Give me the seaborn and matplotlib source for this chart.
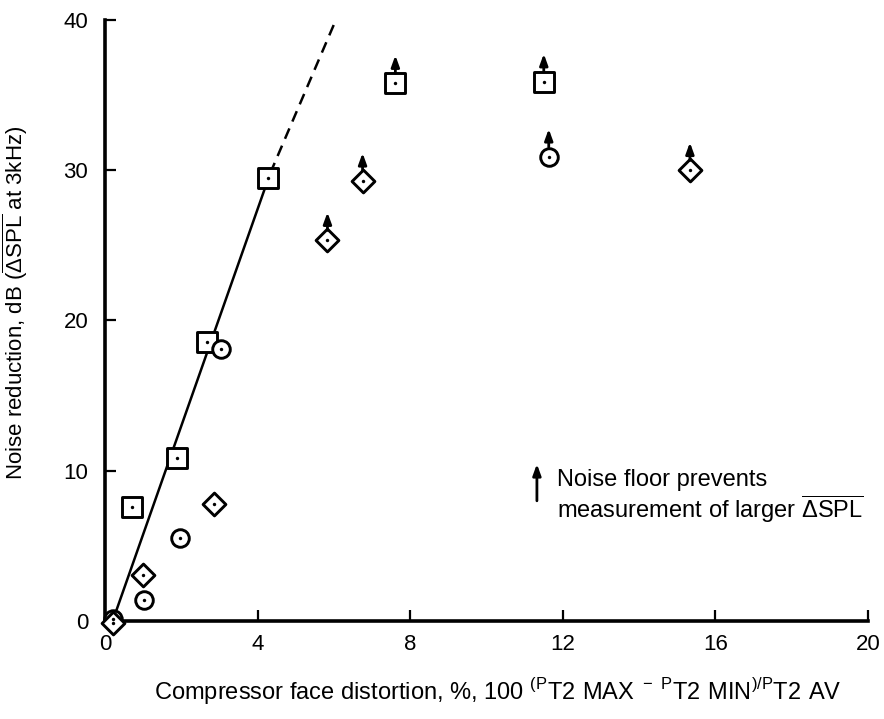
import matplotlib
matplotlib.use("Agg")
import matplotlib.pyplot as plt
from matplotlib.transforms import ScaledTranslation
import seaborn as sns
import pandas as pd

# Measured noise reduction versus compressor face distortion
square_x = [0.71, 1.89, 2.68, 4.28, 7.61, 11.50]
square_y = [7.6, 10.85, 18.55, 29.5, 35.8, 35.9]
square_floor = [False, False, False, False, True, True]

circle_x = [0.20, 1.02, 1.97, 3.04, 11.63]
circle_y = [0.1, 1.4, 5.5, 18.1, 30.9]
circle_floor = [False, False, False, False, True]

diamond_x = [0.20, 1.00, 2.86, 5.83, 6.75, 15.33]
diamond_y = [-0.1, 3.06, 7.8, 25.35, 29.3, 30.0]
diamond_floor = [False, False, False, True, True, True]

# Trend line (solid over the data, dashed extrapolation)
fit_x = [0.20, 4.33]
fit_y = [0.0, 29.8]
ext_x = [4.33, 6.05]
ext_y = [29.8, 40.0]

x_ticks = [0, 4, 8, 12, 16, 20]
y_ticks = [0, 10, 20, 30, 40]

sns.set_theme(style="ticks")
plt.rcParams["font.family"] = ["Liberation Sans", "DejaVu Sans"]
plt.rcParams["mathtext.fontset"] = "custom"
plt.rcParams["mathtext.rm"] = "Liberation Sans"

fig = plt.figure(figsize=(8.84, 7.19), dpi=100)
ax = fig.add_axes([0.1188, 0.1363, 0.8632, 0.8359])

sns.lineplot(x=fit_x, y=fit_y, ax=ax, color="black", linewidth=1.8,
             sort=False, estimator=None)
sns.lineplot(x=ext_x, y=ext_y, ax=ax, color="black", linewidth=1.8,
             sort=False, estimator=None)
ax.lines[-1].set_dashes([4.5, 3])

series = [
    (square_x, square_y, square_floor, "s", 200),
    (circle_x, circle_y, circle_floor, "o", 160),
    (diamond_x, diamond_y, diamond_floor, "D", 135),
]

arrow_style = "-|>,head_length=0.55,head_width=0.2"

for xs, ys, floor, mk, size in series:
    df = pd.DataFrame({"x": xs, "y": ys, "floor": floor})
    sns.scatterplot(data=df, x="x", y="y", ax=ax, marker=mk, s=size,
                    color="white", edgecolor="black", linewidth=2.1,
                    zorder=4, clip_on=False, legend=False)
    sns.scatterplot(data=df, x="x", y="y", ax=ax, marker="o", s=6,
                    color="black", edgecolor="black", linewidth=0,
                    zorder=5, clip_on=False, legend=False)
    # Arrows above points limited by the noise floor
    for xv, yv, fl in zip(xs, ys, floor):
        if not fl:
            continue
        tip = ax.transData + ScaledTranslation(0, 20 / 72, fig.dpi_scale_trans)
        base = ax.transData + ScaledTranslation(0, 7 / 72, fig.dpi_scale_trans)
        ax.annotate("", xy=(xv, yv), xycoords=tip,
                    xytext=(xv, yv), textcoords=base,
                    arrowprops=dict(arrowstyle=arrow_style,
                                    color="black", lw=2.0,
                                    shrinkA=0, shrinkB=0),
                    zorder=6, annotation_clip=False)

ax.set_xlim(0, 20)
ax.set_ylim(0, 40)
ax.set_xticks(x_ticks)
ax.set_yticks(y_ticks)
ax.set_xticklabels([str(v) for v in x_ticks], fontsize=16)
ax.set_yticklabels([str(v) for v in y_ticks], fontsize=16)
ax.tick_params(direction="in", length=8, width=1.6, colors="black")
ax.tick_params(axis="x", pad=9)
ax.tick_params(axis="y", pad=12)
for side in ("top", "right"):
    ax.spines[side].set_visible(False)
for side in ("left", "bottom"):
    ax.spines[side].set_linewidth(2.6)
    ax.spines[side].set_color("black")

ax.set_xlabel(r"Compressor face distortion, %, 100 "
              r"$^{\mathregular{(P}}\mathregular{T2\ MAX}"
              r"^{\mathregular{\ -\ P}}\mathregular{T2\ MIN}"
              r"^{\mathregular{)/P}}\mathregular{T2\ AV}$",
              fontsize=17, color="black")
ax.xaxis.set_label_coords(0.515, -0.092)
ax.set_ylabel(r"Noise reduction, dB ($\overline{\mathregular{\Delta SPL}}$ at 3kHz)",
              fontsize=16, color="black")
ax.yaxis.set_label_coords(-0.098, 0.53)

# Key for the arrow symbol
ax.annotate("", xy=(11.32, 10.45), xytext=(11.32, 8.0),
            arrowprops=dict(arrowstyle=arrow_style,
                            color="black", lw=2.0, shrinkA=0, shrinkB=0))
ax.text(11.85, 8.25,
        "Noise floor prevents\nmeasurement of larger "
        r"$\overline{\mathregular{\Delta SPL}}$",
        fontsize=17, va="center", ha="left", linespacing=1.1, color="black")

fig.savefig("out.png", dpi=100)
